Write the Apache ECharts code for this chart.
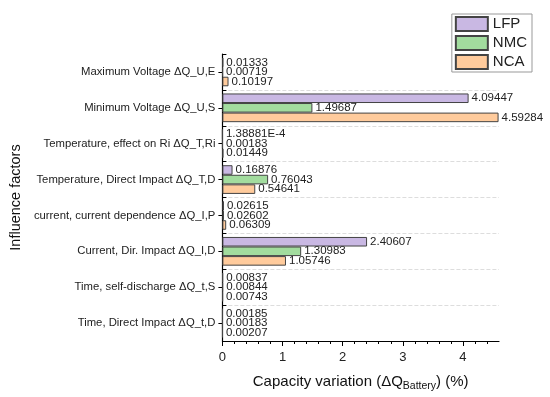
<!DOCTYPE html>
<html><head><meta charset="utf-8">
<script src="https://cdn.jsdelivr.net/npm/echarts@6/dist/echarts.min.js"></script>
<style>html,body{margin:0;padding:0;background:#fff}#c{width:550px;height:397px}</style>
</head><body><div id="c"></div>
<script>
var categories = [
  'Maximum Voltage \u0394Q_U,E',
  'Minimum Voltage \u0394Q_U,S',
  'Temperature, effect on Ri \u0394Q_T,Ri',
  'Temperature, Direct Impact \u0394Q_T,D',
  'current, current dependence \u0394Q_I,P',
  'Current, Dir. Impact \u0394Q_I,D',
  'Time, self-discharge \u0394Q_t,S',
  'Time, Direct Impact \u0394Q_t,D'
];
var lfp = [0.01333, 4.09447, 0.000138881, 0.16876, 0.02615, 2.40607, 0.00837, 0.00185];
var nmc = [0.00719, 1.49687, 0.00183, 0.76043, 0.02602, 1.30983, 0.00844, 0.00183];
var nca = [0.10197, 4.59284, 0.01449, 0.54641, 0.06309, 1.05746, 0.00743, 0.00207];
var xTicks = [0, 1, 2, 3, 4];

var colors = {LFP: '#C9B8E3', NMC: '#A2DC9E', NCA: '#FFCB9C'};
var font = 'Liberation Sans, Arial, sans-serif';

function fmt(p) {
  var v = p.value;
  if (v < 0.001) {
    var e = v.toExponential(5).split('e');
    return e[0] + 'E' + e[1];
  }
  return String(v);
}

function mk(name, data) {
  return {
    name: name, type: 'bar', data: data,
    barGap: '0%', barCategoryGap: '20%',
    itemStyle: {color: colors[name], borderColor: '#444', borderWidth: 1},
    label: {show: true, position: 'right', distance: 3, formatter: fmt,
      fontFamily: font, fontSize: 11.5, color: '#222'}
  };
}

var chart = echarts.init(document.getElementById('c'), null, {renderer: 'canvas'});
chart.setOption({
  animation: false,
  textStyle: {fontFamily: font},
  grid: {left: 218, right: 51, top: 54, bottom: 52, containLabel: false},
  legend: {
    orient: 'vertical', right: 18, top: 14,
    data: ['LFP', 'NMC', 'NCA'],
    itemWidth: 32, itemHeight: 14, itemGap: 3,
    padding: [2, 5, 2, 3],
    borderColor: '#999', borderWidth: 1,
    textStyle: {fontSize: 15, color: '#222', fontFamily: font},
    icon: 'rect'
  },
  xAxis: {
    type: 'value', min: 0, max: 4.6,
    axisLine: {show: true, lineStyle: {color: '#000', width: 1.2}},
    axisTick: {show: true, length: 5, lineStyle: {color: '#000'}, customValues: xTicks},
    minorTick: {show: true, splitNumber: 5, length: 3, lineStyle: {color: '#000'}},
    splitLine: {show: false},
    axisLabel: {fontSize: 13, color: '#222', margin: 10, fontFamily: font,
      customValues: xTicks},
    name: '{a|Capacity variation (\u0394Q}{s|Battery}{a|) (%)}',
    nameLocation: 'middle', nameGap: 31,
    nameTextStyle: {
      rich: {
        a: {fontSize: 15, color: '#111', fontFamily: font},
        s: {fontSize: 10.5, color: '#111', fontFamily: font, padding: [9, 0, 0, 0]}
      }
    }
  },
  yAxis: [{
    type: 'category', data: categories, inverse: true,
    axisLine: {show: true, lineStyle: {color: '#000', width: 1.2}},
    axisTick: {show: true, alignWithLabel: true, length: 4, lineStyle: {color: '#000'}},
    splitLine: {show: true, interval: function (i) { return i > 0; },
      lineStyle: {color: '#ddd', type: 'dashed', width: 1}},
    axisLabel: {fontSize: 11.3, color: '#222', margin: 7, fontFamily: font},
    name: 'Influence factors', nameLocation: 'middle', nameGap: 190,
    nameRotate: 90,
    nameTextStyle: {fontSize: 14.5, color: '#111', fontFamily: font}
  }, {
    type: 'category', data: categories, inverse: true, position: 'left',
    axisLine: {show: false},
    axisTick: {show: true, inside: true, length: 4, lineStyle: {color: '#000'}},
    axisLabel: {show: false},
    splitLine: {show: false}
  }],
  series: [mk('LFP', lfp), mk('NMC', nmc), mk('NCA', nca)]
});
</script>
</body></html>
